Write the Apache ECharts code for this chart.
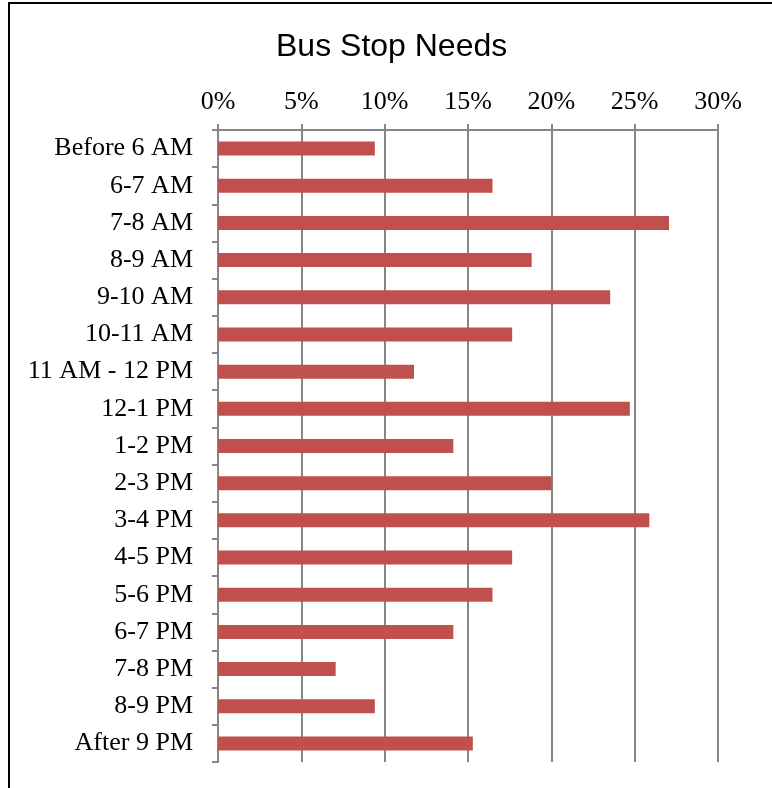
<!DOCTYPE html>
<html>
<head>
<meta charset="utf-8">
<script src="https://cdn.jsdelivr.net/npm/echarts@6/dist/echarts.min.js"></script>
<style>
html,body{margin:0;padding:0;background:#fff;}
#chart{width:772px;height:788px;}
</style>
</head>
<body>
<div id="chart"></div>
<script>
var title = 'Bus Stop Needs';
var categories = ['Before 6 AM','6-7 AM','7-8 AM','8-9 AM','9-10 AM','10-11 AM','11 AM - 12 PM','12-1 PM','1-2 PM','2-3 PM','3-4 PM','4-5 PM','5-6 PM','6-7 PM','7-8 PM','8-9 PM','After 9 PM'];
var values = [9.41,16.47,27.06,18.82,23.53,17.65,11.76,24.71,14.12,20.0,25.88,17.65,16.47,14.12,7.06,9.41,15.29];
var axisMin = 0, axisMax = 30, axisStep = 5;

var chart = echarts.init(document.getElementById('chart'), null, {renderer:'canvas'});
chart.setOption({
  animation:false,
  backgroundColor:'#ffffff',
  title:{text:title,left:276,top:31,padding:0,textStyle:{fontFamily:'Liberation Sans',fontSize:32,fontWeight:'normal',color:'#000'}},
  graphic:[{type:'rect',shape:{x:9,y:3,width:800,height:820},style:{fill:'none',stroke:'#000',lineWidth:2},silent:true}],
  grid:{left:218,right:54,top:130,bottom:26,containLabel:false},
  xAxis:{type:'value',position:'top',min:axisMin,max:axisMax,interval:axisStep,
    axisLine:{show:true,lineStyle:{color:'#868686',width:2}},
    axisTick:{show:true,length:6,lineStyle:{color:'#868686',width:2}},
    splitLine:{show:true,lineStyle:{color:'#868686',width:2}},
    axisLabel:{formatter:'{value}%',margin:15,fontFamily:'Liberation Serif',fontSize:26,color:'#000'}},
  yAxis:{type:'category',inverse:true,data:categories,
    axisLine:{show:true,lineStyle:{color:'#868686',width:2}},
    axisTick:{show:true,length:6,lineStyle:{color:'#868686',width:2}},
    axisLabel:{margin:25,fontFamily:'Liberation Serif',fontSize:26,color:'#000'}},
  series:[{type:'bar',data:values,barWidth:14,itemStyle:{color:'#C0504D'}}]
});
</script>
</body>
</html>
